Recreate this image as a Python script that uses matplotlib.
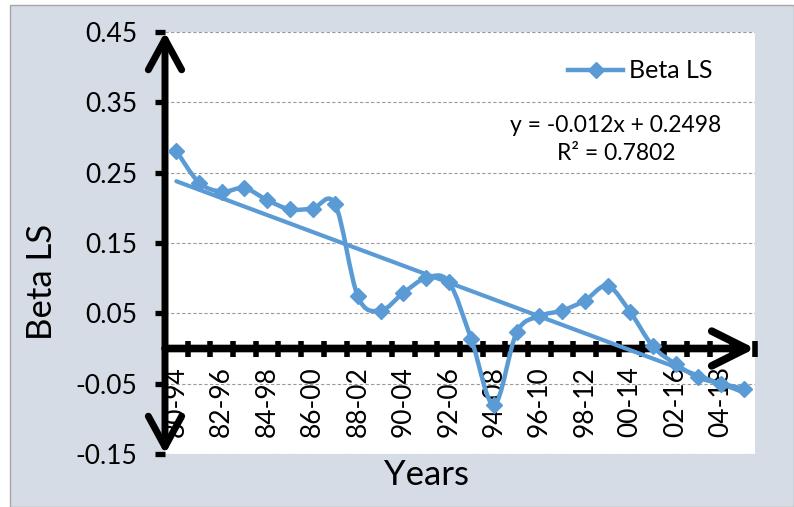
import numpy as np
import matplotlib
matplotlib.use("Agg")
import matplotlib.pyplot as plt
from matplotlib.path import Path
from matplotlib.patches import PathPatch, FancyArrowPatch, Rectangle, ArrowStyle
from matplotlib.lines import Line2D

# rolling 15-year windows
periods = ["80-94", "81-95", "82-96", "83-97", "84-98", "85-99", "86-00", "87-01",
           "88-02", "89-03", "90-04", "91-05", "92-06", "93-07", "94-08", "95-09",
           "96-10", "97-11", "98-12", "99-13", "00-14", "01-15", "02-16", "03-17",
           "04-18", "05-19"]
beta_ls = [0.281, 0.236, 0.223, 0.228, 0.211, 0.198, 0.199, 0.205, 0.074, 0.054,
           0.079, 0.100, 0.095, 0.013, -0.080, 0.023, 0.046, 0.054, 0.068, 0.089,
           0.052, 0.003, -0.022, -0.041, -0.050, -0.057]
y_ticks = [-0.15, -0.05, 0.05, 0.15, 0.25, 0.35, 0.45]
y_ticklabels = ["-0.15", "-0.05", "0.05", "0.15", "0.25", "0.35", "0.45"]
trend_text = "y = -0.012x + 0.2498"
r2_text = "R\u00b2 = 0.7802"

BLUE = "#5B9BD5"
plt.rcParams["font.family"] = ["Lato", "DejaVu Sans"]


def smooth_path(x, y):
    """Catmull-Rom style bezier through the points (like Excel smoothed lines)"""
    pts = np.column_stack([x, y])
    ext = np.vstack([pts[0], pts, pts[-1]])
    verts = [pts[0]]
    codes = [Path.MOVETO]
    for i in range(len(pts) - 1):
        p0, p1, p2, p3 = ext[i], ext[i + 1], ext[i + 2], ext[i + 3]
        verts += [p1 + (p2 - p0) / 6, p2 - (p3 - p1) / 6, p2]
        codes += [Path.CURVE4] * 3
    return Path(verts, codes)


fig = plt.figure(figsize=(7.94, 5.07), dpi=100, facecolor="white")
fig.patches.append(Rectangle((10 / 794, 0), 1 - 10 / 794, 1 - 5 / 507,
                             transform=fig.transFigure, facecolor="#D6DCE5",
                             edgecolor="#A6A6A6", lw=1, zorder=-1))
ax = fig.add_axes([165 / 794, 53 / 507, 590 / 794, 422 / 507])
ax.set_facecolor("white")

x = np.arange(len(beta_ls))
ax.set_xlim(-0.5, len(beta_ls) - 0.5)
ax.set_ylim(-0.15, 0.45)

# gridlines
ax.set_yticks(y_ticks)
ax.set_yticklabels(y_ticklabels, fontsize=19)
ax.yaxis.grid(True, color="#9A9A9A", linestyle=(0, (3, 2)), lw=0.8)
ax.set_axisbelow(True)
ax.tick_params(axis="y", direction="out", length=7, width=3.8, pad=13, color="black")

# x axis crossing at zero
for s in ["top", "right", "left", "bottom"]:
    ax.spines[s].set_visible(False)
ax.spines["bottom"].set_position(("data", 0))
ax.set_xticks(x[::2])
ax.set_xticklabels(periods[::2], rotation=90, fontsize=19)
ax.set_xticks(np.arange(-0.5, len(beta_ls)), minor=True)
ax.tick_params(axis="x", which="major", length=0, pad=13)
ax.tick_params(axis="x", which="minor", direction="inout", length=12, width=4, color="black")

# arrows for the axes
v_arrow = FancyArrowPatch((-0.5, -0.15), (-0.5, 0.45),
                          arrowstyle=ArrowStyle("<->", head_length=22, head_width=12),
                          mutation_scale=1, lw=5, color="black", shrinkA=0, shrinkB=0,
                          capstyle="round", clip_on=False, zorder=3)
h_arrow = FancyArrowPatch((-0.5, 0), (len(beta_ls) - 0.5, 0),
                          arrowstyle=ArrowStyle("->", head_length=25, head_width=12.5),
                          mutation_scale=1, lw=5.5, color="black", shrinkA=0, shrinkB=0,
                          capstyle="round", clip_on=False, zorder=3)
ax.add_patch(v_arrow)
ax.add_patch(h_arrow)

# data series (smoothed) + linear trend
ax.add_patch(PathPatch(smooth_path(x, beta_ls), facecolor="none", edgecolor=BLUE,
                       lw=3.2, zorder=4, capstyle="round"))
ax.plot(x, beta_ls, "D", color=BLUE, ms=8, zorder=5)
coef = np.polyfit(x + 1, beta_ls, 1)
ax.plot(x, np.polyval(coef, x + 1), color=BLUE, lw=3, zorder=4, solid_capstyle="round")

handle = Line2D([], [], color=BLUE, lw=3.2, marker="D", ms=8)
ax.legend([handle], ["Beta LS"], loc="center left", bbox_to_anchor=(568 / 794, 1 - 71 / 507),
          bbox_transform=fig.transFigure, frameon=False, fontsize=18, handlelength=2.2,
          handletextpad=0.25, borderpad=0, borderaxespad=0)

fig.text(616 / 794, 1 - 125 / 507, trend_text, ha="center", va="center", fontsize=16.5)
fig.text(616 / 794, 1 - 153 / 507, r2_text, ha="center", va="center", fontsize=16.5)

fig.text(42 / 794, 1 - 282 / 507, "Beta LS", rotation=90, ha="center", va="center", fontsize=25)
fig.text(427 / 794, 1 - 485 / 507, "Years", ha="center", va="baseline", fontsize=25)

fig.savefig("out.png", dpi=100, facecolor=fig.get_facecolor())
